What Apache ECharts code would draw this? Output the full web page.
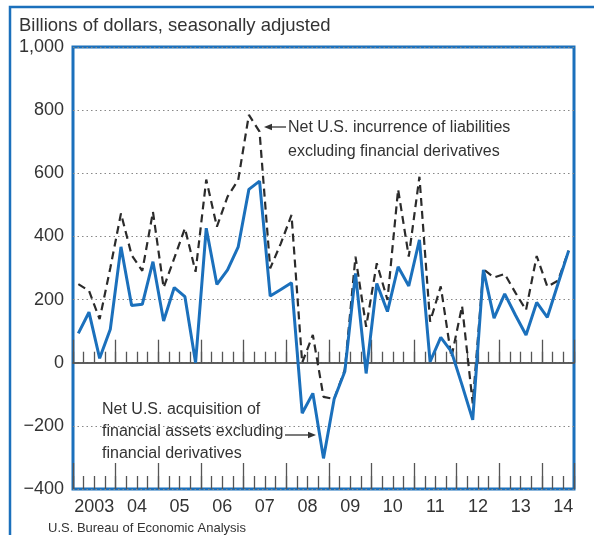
<!DOCTYPE html>
<html>
<head>
<meta charset="utf-8">
<script src="https://cdn.jsdelivr.net/npm/echarts@6/dist/echarts.min.js"></script>
<style>
  html, body { margin: 0; padding: 0; background: #fff; }
  #chart { width: 594px; height: 535px; }
</style>
</head>
<body>
<div id="chart"></div>
<script>
// quarterly, 2003 Q1 .. 2014 Q3
var years = ['2003', '04', '05', '06', '07', '08', '09', '10', '11', '12', '13', '14'];
var liabilities = [249, 228, 138, 300, 473, 341, 291, 478, 238, 331, 426, 288,
  580, 431, 526, 579, 785, 732, 299, 378, 468, 0, 88, -108, -115, -22, 336, 114,
  315, 199, 549, 336, 589, 130, 242, 17, 180, -129, 296, 270, 281, 222, 167, 338,
  241, 260, 355];
var assets = [93, 160, 14, 106, 367, 181, 185, 320, 132, 238, 209, 0,
  426, 248, 294, 367, 549, 575, 211, 232, 253, -160, -97, -303, -115, -28, 283, -34,
  251, 162, 304, 243, 389, 3, 80, 35, -71, -181, 294, 141, 218, 151, 88, 191,
  144, 250, 355];

var FONT = '"Liberation Sans", Arial, sans-serif';
var BLUE = '#1b70bc';
var INK = '#333';
var nQ = assets.length;

function toPairs(arr) {
  return arr.map(function (v, i) { return [i + 0.5, v]; });
}

function fmtY(v) {
  if (v === 1000) return '1,000';
  if (v < 0) return '\u2212' + Math.abs(v);
  return String(v);
}

// value x-axis used only for tick marks (and year labels on the first one)
function tickAxis(interval, len, onZero, labels) {
  return {
    type: 'value',
    position: 'bottom',
    min: 0,
    max: nQ,
    interval: interval,
    axisLine: onZero
      ? { show: true, onZero: true, onZeroAxisIndex: 0, lineStyle: { color: '#555', width: 1.5 } }
      : { show: false, onZero: false },
    axisTick: { show: true, inside: true, length: len, lineStyle: { color: '#555', width: 1.3 } },
    axisLabel: labels ? {
      show: true,
      margin: 9,
      color: INK,
      fontFamily: FONT,
      fontSize: 18,
      formatter: function (v) {
        if (v % 4 === 2) return years[(v - 2) / 4] || '';
        return '';
      }
    } : { show: false },
    splitLine: { show: false }
  };
}

function arrow(x1, x2, y) {
  var dir = x2 > x1 ? 1 : -1;
  return [
    { type: 'line', shape: { x1: x1, y1: y, x2: x2 - dir * 5, y2: y }, style: { stroke: INK, lineWidth: 1.3 } },
    { type: 'polygon', shape: { points: [[x2, y], [x2 - dir * 8, y - 3.2], [x2 - dir * 8, y + 3.2]] }, style: { fill: INK } }
  ];
}

var chart = echarts.init(document.getElementById('chart'));
chart.setOption({
  animation: false,
  grid: {
    left: 73, top: 47, right: 20, bottom: 46,
    show: true, borderColor: BLUE, borderWidth: 3, backgroundColor: 'transparent'
  },
  xAxis: [
    tickAxis(1, 13, false, true),
    tickAxis(4, 26, false, false),
    tickAxis(1, 11, true, false),
    tickAxis(4, 23, true, false)
  ],
  yAxis: {
    type: 'value',
    min: -400,
    max: 1000,
    interval: 200,
    axisLine: { show: false },
    axisTick: { show: false },
    axisLabel: { color: INK, fontFamily: FONT, fontSize: 18, margin: 9, formatter: fmtY },
    splitLine: { show: true, lineStyle: { type: [1.5, 3], width: 1, color: '#888' } }
  },
  graphic: [
    { type: 'rect', shape: { x: 10, y: 7, width: 600, height: 560 }, style: { fill: null, stroke: BLUE, lineWidth: 2.5 }, z: 1 },
    { type: 'text', x: 19, y: 26, style: { text: 'Billions of dollars, seasonally adjusted', fill: INK, font: '18.5px ' + FONT, verticalAlign: 'middle' } },
    { type: 'text', x: 288, y: 128, style: { text: 'Net U.S. incurrence of liabilities', fill: INK, font: '16px ' + FONT, verticalAlign: 'middle' } },
    { type: 'text', x: 288, y: 152, style: { text: 'excluding financial derivatives', fill: INK, font: '16px ' + FONT, verticalAlign: 'middle' } },
    { type: 'text', x: 102, y: 410, style: { text: 'Net U.S. acquisition of', fill: INK, font: '16px ' + FONT, verticalAlign: 'middle' } },
    { type: 'text', x: 102, y: 432, style: { text: 'financial assets excluding', fill: INK, font: '16px ' + FONT, verticalAlign: 'middle' } },
    { type: 'text', x: 102, y: 454, style: { text: 'financial derivatives', fill: INK, font: '16px ' + FONT, verticalAlign: 'middle' } },
    { type: 'text', x: 48, y: 528, style: { text: 'U.S. Bureau of Economic Analysis', fill: INK, font: '13px ' + FONT, verticalAlign: 'middle' } }
  ].concat(arrow(286, 264, 127)).concat(arrow(285, 316, 435)),
  series: [
    {
      name: 'Net U.S. incurrence of liabilities excluding financial derivatives',
      type: 'line',
      xAxisIndex: 0,
      data: toPairs(liabilities),
      showSymbol: false,
      lineStyle: { color: '#2b2b2b', width: 2.2, type: [8, 5] },
      z: 3
    },
    {
      name: 'Net U.S. acquisition of financial assets excluding financial derivatives',
      type: 'line',
      xAxisIndex: 0,
      data: toPairs(assets),
      showSymbol: false,
      lineStyle: { color: BLUE, width: 3 },
      z: 4
    }
  ]
});
</script>
</body>
</html>
